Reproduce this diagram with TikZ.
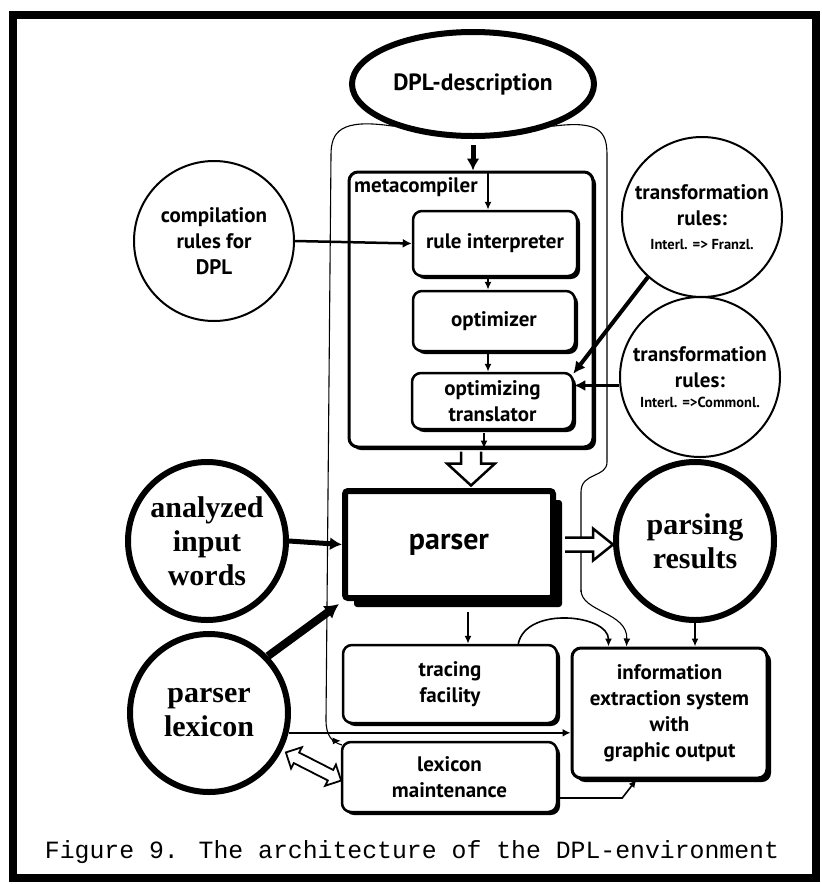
\documentclass[tikz,border=0pt]{standalone}
\usepackage{fontspec}
\setmainfont{PT Sans}
\newfontfamily\slabfont{Liberation Serif}
\newfontfamily\capfont{Liberation Mono}
\usetikzlibrary{arrows.meta,shapes.geometric,shapes.arrows,shadows,calc}
\begin{document}
\begin{tikzpicture}[x=1pt,y=-1pt,
  every node/.style={align=center, inner sep=0pt},
  txt/.style={font=\bfseries\fontsize{21}{26}\selectfont},
  big/.style={font=\slabfont\bfseries\fontsize{30}{34}\selectfont},
  thincirc/.style={circle, draw, line width=2pt, minimum size=160pt, txt},
  thickcirc/.style={circle, draw, line width=6pt, minimum size=158pt, big},
  box/.style={draw, fill=white, line width=2.5pt, rounded corners=9pt, txt,
     drop shadow={shadow xshift=3pt, shadow yshift=-3pt, fill=black, opacity=1}},
  conn/.style={line width=1.6pt, -{Latex[length=8pt,width=7pt]}},
  bold conn/.style={line width=#1, -{Latex[length=12pt,width=13pt]}},
  thinline/.style={line width=1.1pt},
  hollow/.style={draw, fill=white, line width=2.5pt, line join=miter},
]
\useasboundingbox (0,0) rectangle (822,884);
\fill[white] (0,0) rectangle (822,884);

% outer frame
\draw[line width=8pt] (13,15) rectangle (816,878);

% nodes
\node[ellipse, draw, line width=6pt, minimum width=242pt, minimum height=104pt,
      font=\bfseries\fontsize{23.5}{26}\selectfont] (dpl) at (473,84) {DPL-description};

% container thin outline (drawn under the boxes)
\draw[thinline] (dpl.208) .. controls (340,118) and (331,132) .. (331,155)
   -- (326,720) .. controls (326,736) and (332,742) .. (342,745);
\draw[thinline] (dpl.-28) .. controls (600,120) and (607,132) .. (607,155)
   -- (607,462) .. controls (607,478) and (581,472) .. (581,492) -- (581,592);

\node[box, line width=3pt, minimum width=244pt, minimum height=275pt] (meta) at (471,309.5) {};
\node[txt, anchor=north west] (metalab) at (354,177) {metacompiler};

\node[box, minimum width=164pt, minimum height=65pt] (ruleint) at (495,243.5) {rule interpreter};
\node[box, minimum width=162pt, minimum height=60pt] (opt) at (494,321) {optimizer};
\node[box, minimum width=161pt, minimum height=56pt] (transl) at (492.5,401) {optimizing\\translator};

\node[thincirc] (comp) at (214,241) {compilation\\rules for\\DPL};
\node[thincirc] (tr1) at (702,217) {transformation\\rules:\\[-2pt]{\fontsize{14.5}{16}\selectfont Interl. => Franzl.}};
\node[thincirc] (tr2) at (700,377) {transformation\\rules:\\[-6pt]{\fontsize{14.5}{16}\selectfont Interl. =>Commonl.}};

\node[draw, fill=white, line width=6pt, rounded corners=3pt, minimum width=208pt, minimum height=107pt,
      drop shadow={shadow xshift=9pt, shadow yshift=-9pt, fill=black, opacity=1},
      font=\bfseries\fontsize{30}{32}\selectfont] (parser) at (449,544.5) {parser};

\node[thickcirc] (anal) at (207,541) {analyzed\\input\\words};
\node[thickcirc] (lexc) at (209,713) {parser\\lexicon};
\node[thickcirc] (res) at (695,541) {parsing\\results};

\node[box, minimum width=214pt, minimum height=78pt] (trace) at (450,684) {tracing\\facility};
\node[box, minimum width=215pt, minimum height=70pt] (lexm) at (449.5,777) {lexicon\\maintenance};
\node[box, line width=3pt, minimum width=195pt, minimum height=130pt,
      drop shadow={shadow xshift=4pt, shadow yshift=-4pt, fill=black, opacity=1}] (info) at (669.5,713) {information\\extraction system\\with\\graphic output};

\node[font=\capfont\fontsize{24.8}{28}\selectfont] (cap) at (412,852) {Figure 9. The architecture of the DPL-environment};

% container right line, lower part, into info box
\draw[thinline, -{Latex[length=8pt,width=7pt]}] (581,590) .. controls (581,612) and (628,612) .. ([xshift=56pt]info.north west);
% container left line arrow into lexicon maintenance
\draw[thinline, -{Latex[length=8pt,width=7pt]}] (332,741) -- (lexm.north west);

% connectors
\coordinate (mx) at (488,0);
\coordinate (mx2) at (484,0);
\draw[bold conn=5pt] ([yshift=-6pt]dpl.south) -- (dpl.south |- meta.north);
\draw[conn] (meta.north -| mx) -- (ruleint.north -| mx);
\draw[conn] (ruleint.south -| mx) -- (opt.north -| mx);
\draw[conn] (opt.south -| mx) -- (transl.north -| mx);
\draw[conn] ([yshift=-3pt]transl.south -| mx2) -- (meta.south -| mx2);
\draw[line width=2.5pt, -{Latex[length=9pt,width=9pt]}] (comp.east) -- (ruleint.west);
\draw[line width=4pt, -{Latex[length=12pt,width=12pt]}] (tr1.228) -- ([xshift=-1pt,yshift=-2pt]transl.north east);
\draw[line width=3pt, -{Latex[length=11pt,width=11pt]}] (tr2.186) -- (tr2.186 -| transl.east);

% hollow arrow metacompiler -> parser
\draw[hollow] ($(meta.south)+(-10,3)$) -- ++(0,12) -- ++(-14,0) -- ++(24,22) -- ++(24,-22) -- ++(-14,0) -- ++(0,-12);
% hollow arrow parser -> results
\draw[hollow] ($(parser.east)+(9,-7)$) -- ++(28,0) -- ++(0,-9) -- ++(20,16) -- ++(-20,16) -- ++(0,-9) -- ++(-28,0);

\draw[bold conn=5pt] (anal.east) -- (parser.west);
\draw[line width=8pt, -{Latex[length=14pt,width=16pt]}] (lexc.44) -- ([xshift=-3pt,yshift=-3pt]parser.south west);
\draw[line width=2pt, -{Latex[length=8pt,width=8pt]}] (lexc.-14) -- (lexc.-14 -| info.west);

\coordinate (px) at (468,612);
\draw[conn] (px) -- (px |- trace.north);
\draw[conn] ([xshift=-40pt]trace.north east) .. controls +(8,-38) and +(0,-32) .. ([xshift=38pt]info.north west);
\draw[conn] (res.south) -- (res.south |- info.north);
\draw[line width=1.6pt, -{Latex[length=8pt,width=7pt]}] ([yshift=-21pt]lexm.east) -- ++(64,0) -- ([xshift=66pt]info.south west);

\node[draw, fill=white, line width=1.8pt, double arrow, double arrow head extend=6pt,
      minimum height=62pt, rotate=-27] (lexarr) at (313.5,766.5) {\rule{0pt}{10pt}};
\end{tikzpicture}
\end{document}
